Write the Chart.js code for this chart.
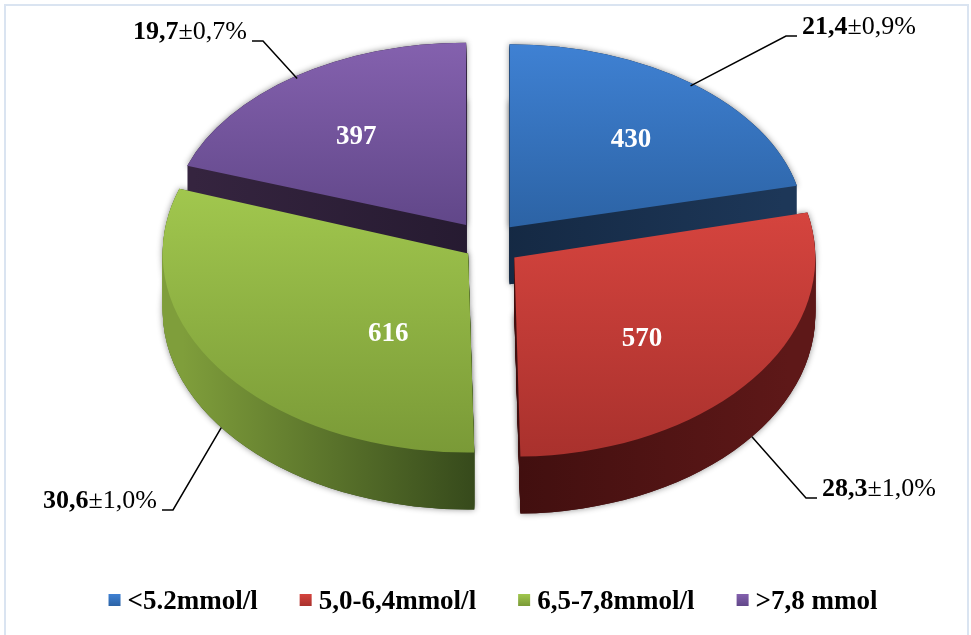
<!DOCTYPE html>
<html>
<head>
<meta charset="utf-8">
<script src="https://cdn.jsdelivr.net/npm/chart.js@4.4.1/dist/chart.umd.min.js"></script>
<style>
  html, body { margin: 0; padding: 0; background: #fff; overflow: hidden; }
  #wrap { width: 971px; height: 635px; }
</style>
</head>
<body>
<div id="wrap"><canvas id="chart-glucose" width="971" height="635"></canvas></div>
<script>
// glucose groups (patients per group) and their shares
const categories = ['<5.2mmol/l', '5,0-6,4mmol/l', '6,5-7,8mmol/l', '>7,8 mmol'];
const counts = [430, 570, 616, 397];
const shares = ['21,4', '28,3', '30,6', '19,7'];
const errors = ['±0,9%', '±1,0%', '±1,0%', '±0,7%'];

// face colours: top gradient (light -> dark), wall (edge -> middle)
const topLight = ['#3f81d3', '#d5443e', '#a1c74e', '#8461ae'];
const topDark = ['#2c63a5', '#a9312d', '#7a9a37', '#614789'];
const wallEdge = ['#1d3758', '#5e1818', '#7f9e3b', '#35243f'];
const wallMid = ['#142842', '#3e0e0e', '#33461a', '#251a30'];

// explode distance (px); perspective: horizontal stretch and vertical squash per slice
const explode = [35, 33, 24, 38];
const widen = [0.99, 1.01, 1.025, 0.99];
const tilt = [0.614, 0.668, 0.668, 0.612];
const DEPTH = 57;

// value label placement inside the top face: [fraction of sweep, fraction of radius]
const innerAt = [[0.53, 0.63], [0.56, 0.59], [0.31, 0.48], [0.47, 0.61]];
// callout text anchor: [x, baseline, align]
const calloutAt = [[802, 34, 'left'], [822, 496, 'left'], [157, 508, 'right'], [247, 39, 'right']];

const SERIF = '"Liberation Serif", "Times New Roman", serif';

function frame(ctx, arc, i, drop) {
  ctx.translate(0, drop);
  ctx.translate(arc.x, arc.y);
  ctx.scale(widen[i], tilt[i]);
  ctx.translate(-arc.x, -arc.y);
}

function apex(arc) {
  const off = (arc.options.offset || 0) / 4;
  const mid = (arc.startAngle + arc.endAngle) / 2;
  return [arc.x + Math.cos(mid) * off, arc.y + Math.sin(mid) * off];
}

function wedge(ctx, arc) {
  const [ax, ay] = apex(arc);
  ctx.beginPath();
  ctx.moveTo(ax, ay);
  ctx.arc(ax, ay, arc.outerRadius, arc.startAngle, arc.endAngle);
  ctx.closePath();
}

// point on a slice (angle, radius in pie space) -> canvas pixels
function onSlice(arc, i, angle, r, drop) {
  const [ax, ay] = apex(arc);
  const px = ax + Math.cos(angle) * r;
  const py = ay + Math.sin(angle) * r;
  return [arc.x + (px - arc.x) * widen[i], arc.y + (py - arc.y) * tilt[i] + drop];
}

function yRange(arc) {
  const [ax, ay] = apex(arc);
  let lo = ay, hi = ay;
  for (let k = 0; k <= 40; k++) {
    const a = arc.startAngle + (arc.endAngle - arc.startAngle) * k / 40;
    const y = ay + Math.sin(a) * arc.outerRadius;
    lo = Math.min(lo, y); hi = Math.max(hi, y);
  }
  return [lo, hi];
}

const pie3d = {
  id: 'pie3d',
  beforeDraw(chart) {
    const ctx = chart.ctx;
    ctx.save();
    ctx.fillStyle = '#fff';
    ctx.fillRect(0, 0, chart.width, chart.height);
    ctx.strokeStyle = '#dae4f1';
    ctx.lineWidth = 2;
    ctx.strokeRect(5, 5, 963, 700);
    ctx.restore();
  },
  beforeDatasetsDraw(chart) {
    const ctx = chart.ctx;
    const arcs = chart.getDatasetMeta(0).data;

    // soft shadow under each slice
    arcs.forEach((arc, i) => {
      ctx.save();
      ctx.shadowColor = 'rgba(0,0,0,0.45)';
      ctx.shadowBlur = 6;
      ctx.fillStyle = wallMid[i];
      [0, DEPTH].forEach(d => {
        ctx.save(); frame(ctx, arc, i, d); wedge(ctx, arc); ctx.restore();
        ctx.fill();
      });
      ctx.restore();
    });

    // walls: stacked copies, lowest first
    for (let d = DEPTH; d >= 1; d--) {
      arcs.forEach((arc, i) => {
        ctx.save();
        frame(ctx, arc, i, d);
        const r = arc.outerRadius;
        const g = ctx.createLinearGradient(arc.x - r, 0, arc.x + r, 0);
        g.addColorStop(0, wallEdge[i]);
        g.addColorStop(0.5, wallMid[i]);
        g.addColorStop(1, wallEdge[i]);
        ctx.fillStyle = g;
        wedge(ctx, arc);
        ctx.fill();
        ctx.restore();
      });
    }

    // top faces
    arcs.forEach((arc, i) => {
      ctx.save();
      frame(ctx, arc, i, 0);
      const [lo, hi] = yRange(arc);
      const g = ctx.createLinearGradient(0, lo, 0, hi);
      g.addColorStop(0, topLight[i]);
      g.addColorStop(1, topDark[i]);
      ctx.fillStyle = g;
      wedge(ctx, arc);
      ctx.fill();
      ctx.restore();
    });
    return false;
  },
  afterDraw(chart) {
    const ctx = chart.ctx;
    const arcs = chart.getDatasetMeta(0).data;
    ctx.save();

    // counts on the slices
    ctx.fillStyle = '#fff';
    ctx.font = 'bold 27px ' + SERIF;
    ctx.textAlign = 'center';
    ctx.textBaseline = 'middle';
    arcs.forEach((arc, i) => {
      const a = arc.startAngle + (arc.endAngle - arc.startAngle) * innerAt[i][0];
      const [x, y] = onSlice(arc, i, a, arc.outerRadius * innerAt[i][1], 0);
      ctx.fillText(String(counts[i]), x, y);
    });

    // callouts with leader lines
    ctx.textBaseline = 'alphabetic';
    ctx.strokeStyle = '#000';
    ctx.lineWidth = 1.5;
    arcs.forEach((arc, i) => {
      const mid = (arc.startAngle + arc.endAngle) / 2;
      const front = Math.sin(mid) > 0;
      const [sx, sy] = front
        ? onSlice(arc, i, mid, arc.outerRadius, DEPTH)
        : onSlice(arc, i, mid, arc.outerRadius - 4, 0);
      const [tx, ty, align] = calloutAt[i];
      const dir = align === 'left' ? -1 : 1;
      const lineY = ty + 2;
      ctx.beginPath();
      ctx.moveTo(sx, sy);
      ctx.lineTo(tx + dir * 16, lineY);
      ctx.lineTo(tx + dir * 5, lineY);
      ctx.stroke();

      ctx.font = 'bold 26px ' + SERIF;
      const wb = ctx.measureText(shares[i]).width;
      ctx.font = '26px ' + SERIF;
      const wn = ctx.measureText(errors[i]).width;
      const x0 = align === 'left' ? tx : tx - wb - wn;
      ctx.fillStyle = '#000';
      ctx.textAlign = 'left';
      ctx.font = 'bold 26px ' + SERIF;
      ctx.fillText(shares[i], x0, ty);
      ctx.font = '26px ' + SERIF;
      ctx.fillText(errors[i], x0 + wb, ty);
    });

    // legend
    ctx.font = 'bold 27px ' + SERIF;
    const box = 12, gapIn = 7, gapOut = 42;
    const widths = categories.map(c => ctx.measureText(c).width);
    const total = widths.reduce((s, w) => s + w + box + gapIn, 0) + gapOut * (categories.length - 1);
    let x = 493 - total / 2;
    categories.forEach((c, i) => {
      const g = ctx.createLinearGradient(0, 594, 0, 606);
      g.addColorStop(0, topLight[i]);
      g.addColorStop(1, topDark[i]);
      ctx.fillStyle = g;
      ctx.fillRect(x, 594, box, box);
      ctx.fillStyle = '#000';
      ctx.fillText(c, x + box + gapIn, 609);
      x += box + gapIn + widths[i] + gapOut;
    });
    ctx.restore();
  }
};

new Chart(document.getElementById('chart-glucose'), {
  type: 'pie',
  data: {
    labels: categories,
    datasets: [{
      data: counts,
      backgroundColor: topLight,
      borderWidth: 0,
      offset: explode.map(v => v * 4)
    }]
  },
  options: {
    responsive: false,
    animation: false,
    devicePixelRatio: 1,
    radius: 298,
    layout: { padding: { left: 5, right: 0, top: 0, bottom: 147 } },
    plugins: {
      legend: { display: false },
      tooltip: { enabled: false }
    }
  },
  plugins: [pie3d]
});
</script>
</body>
</html>
